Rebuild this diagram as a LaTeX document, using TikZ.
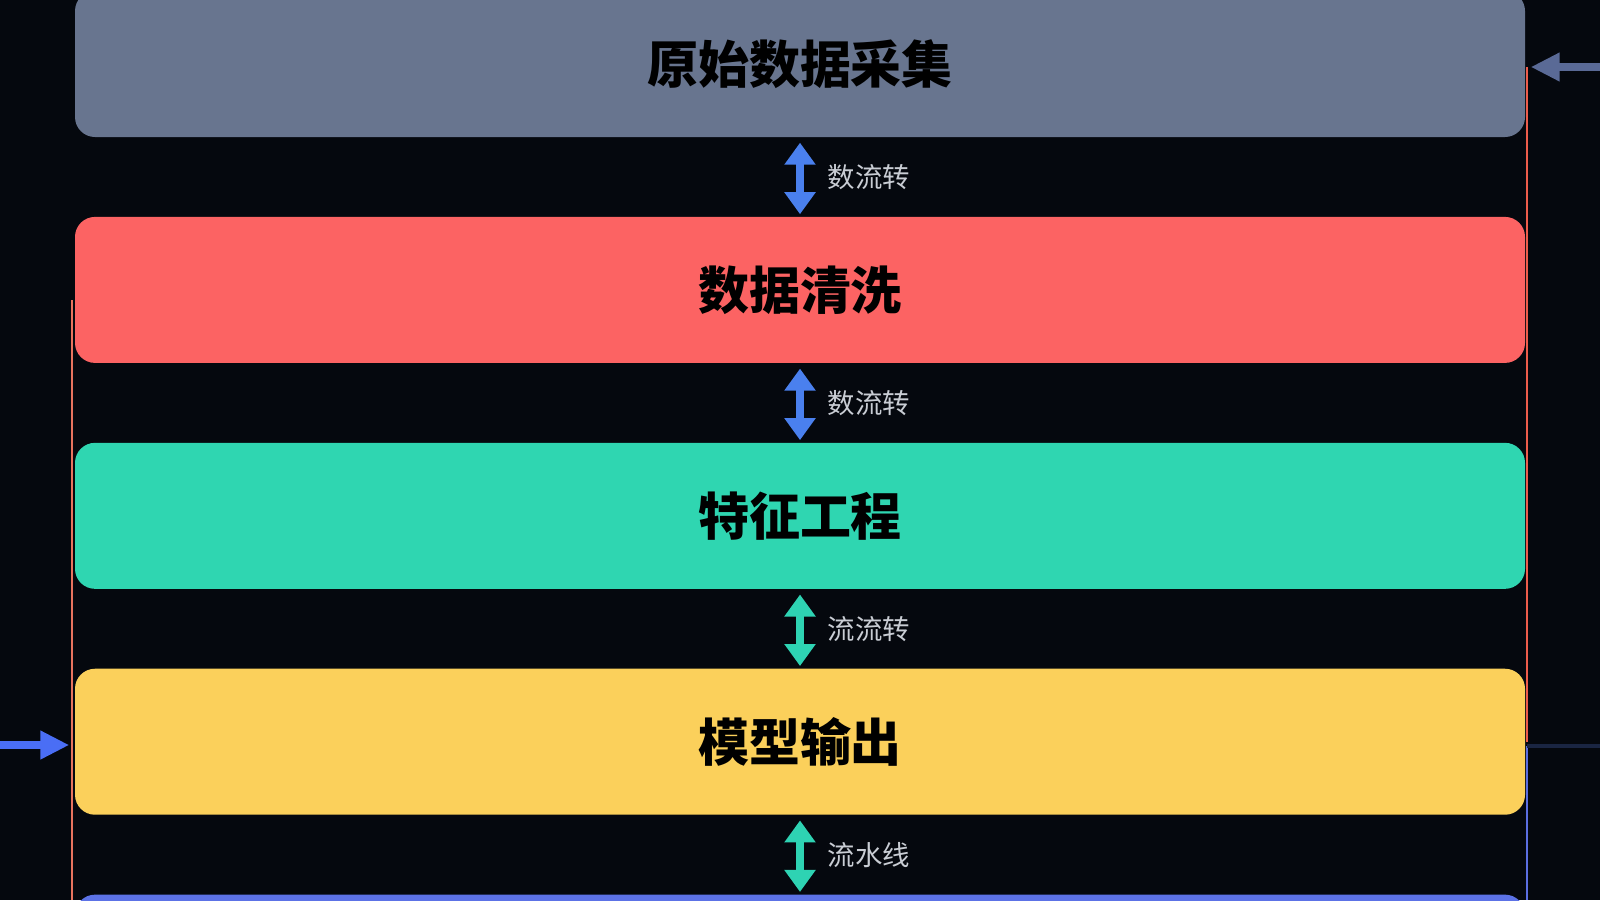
\documentclass[tikz,border=0pt]{standalone}
\usepackage{fontspec}
\setmainfont{Noto Sans CJK SC}
\usetikzlibrary{positioning,arrows.meta}
\definecolor{bg}{HTML}{05080E}
\definecolor{stagegray}{HTML}{68758F}
\definecolor{stagered}{HTML}{FC6363}
\definecolor{stagegreen}{HTML}{2FD6B1}
\definecolor{stageyellow}{HTML}{FBD05B}
\definecolor{stageblue}{HTML}{5C72E6}
\definecolor{flowblue}{HTML}{4A80EE}
\definecolor{flowteal}{HTML}{2ED3B3}
\definecolor{labelgray}{HTML}{C9CDD4}
\definecolor{linered}{HTML}{E8735E}
\definecolor{lineblue}{HTML}{5B6EE0}
\definecolor{feedgray}{HTML}{5A6A96}
\definecolor{feedblue}{HTML}{4A6EF5}
\definecolor{faintblue}{HTML}{1A2542}
\begin{document}
\begin{tikzpicture}[node distance=0.785cm,
    stage/.style={rounded corners=0.2cm, minimum width=14.5cm, minimum height=1.46cm,
        inner sep=0pt, text=black, font=\bfseries\fontsize{14.5}{16}\selectfont},
    flow/.style={{Triangle[width=0.3cm,length=0.22cm]}-{Triangle[width=0.3cm,length=0.22cm]},
        line width=0.08cm, shorten <=0.05cm, shorten >=0.02cm},
    flowlabel/.style={right=0.12cm, text=labelgray, font=\fontsize{7.8}{9}\selectfont},
    feed/.style={-{Triangle[width=0.27cm,length=0.29cm]}, line width=0.08cm, shorten >=0.05cm},
    side/.style={line width=0.02cm}]
    \fill[bg] (0,0) rectangle (16,-9);
    \useasboundingbox (0,0) rectangle (16,-9);
    \node[stage, fill=stagegray] (collect) at (8,-0.64) {原始数据采集};
    \node[stage, fill=stagered, below=of collect] (clean) {数据清洗};
    \node[stage, fill=stagegreen, below=of clean] (feature) {特征工程};
    \node[stage, fill=stageyellow, below=of feature] (model) {模型输出};
    \node[stage, fill=stageblue, below=of model] (deploy) {};
    \draw[flow, flowblue] (collect) -- (clean) node[midway, flowlabel] {数流转};
    \draw[flow, flowblue] (clean) -- (feature) node[midway, flowlabel] {数流转};
    \draw[flow, flowteal] (feature) -- (model) node[midway, flowlabel] {流流转};
    \draw[flow, flowteal] (model) -- (deploy) node[midway, flowlabel] {流水线};
    \coordinate (lefttop) at (0.72,-3.0);
    \coordinate (leftbot) at (0.72,-9);
    \coordinate (righttop) at (15.27,-0.67);
    \coordinate (rightmid) at (15.27,-7.42);
    \coordinate (rightlow) at (15.27,-7.46);
    \coordinate (rightbot) at (15.27,-9);
    \coordinate (edgeright) at (16,-7.46);
    \draw[side, linered] (lefttop) -- (leftbot);
    \draw[side, linered!80!red] (righttop) -- (rightmid);
    \draw[side, lineblue] (rightlow) -- (rightbot);
    \draw[line width=0.04cm, faintblue] (rightlow) -- (edgeright);
    \coordinate (feedin) at (16,-0.67);
    \coordinate (feedleft) at (0,-7.45);
    \draw[feed, feedgray] (feedin) -- (feedin -| collect.east);
    \draw[feed, feedblue] (feedleft) -- (feedleft -| model.west);
\end{tikzpicture}
\end{document}
